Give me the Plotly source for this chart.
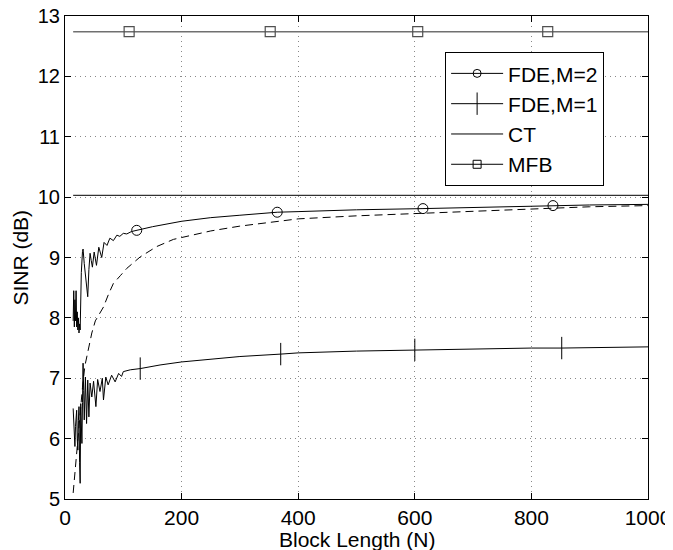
import plotly.graph_objects as go

# block length axis / SINR values
n_fde2 = [14, 15, 16, 17, 18, 19, 20, 21, 22, 23, 24, 25, 26, 27, 28, 30, 31, 33, 36, 39,
          41, 43, 45, 47, 50, 54, 58, 63, 67, 72, 77, 83, 89, 94, 100, 106, 114, 123,
          150, 200, 250, 300, 364, 400, 500, 614, 700, 837, 900, 1000]
sinr_fde2 = [7.95, 8.45, 7.85, 8.3, 7.95, 8.45, 7.85, 8.1, 7.8, 8.0, 7.75, 7.9, 7.8, 8.3, 8.75, 9.1, 9.14, 8.9, 8.6, 8.35,
             8.8, 9.07, 8.95, 8.84, 9.09, 8.87, 9.17, 9.0, 9.25, 9.2, 9.32, 9.28, 9.37, 9.35, 9.40, 9.39, 9.43, 9.45,
             9.51, 9.60, 9.66, 9.70, 9.75, 9.76, 9.79, 9.81, 9.83, 9.86, 9.87, 9.88]
mark_fde2 = [123, 364, 614, 837]

n_fde1 = [14, 15, 16, 17, 18, 20, 21, 22, 23, 24, 25, 26, 27, 28, 29, 30, 31, 32, 33, 35, 37, 39, 41, 43,
          46, 49, 53, 56, 60, 64, 66, 70, 74, 80, 86, 92, 97, 100, 112, 129,
          163, 200, 250, 300, 370, 400, 500, 600, 700, 800, 852, 900, 1000]
sinr_fde1 = [6.50, 6.30, 6.14, 5.87, 6.20, 6.47, 6.0, 5.81, 6.3, 6.53, 5.6, 5.26, 6.58, 6.1, 5.92, 6.6, 7.25, 6.8, 6.31, 7.02, 6.25, 6.97, 6.36, 6.92,
             6.69, 6.95, 6.53, 6.98, 6.78, 7.0, 6.64, 7.02, 6.89, 7.05, 6.94, 7.08, 7.03, 7.11, 7.14, 7.16,
             7.22, 7.27, 7.32, 7.36, 7.40, 7.42, 7.45, 7.47, 7.485, 7.50, 7.50, 7.51, 7.52]
mark_fde1 = [129, 370, 600, 852]

n_dash = [14, 17, 20, 23, 26, 30, 34, 40, 46, 52, 60, 66, 75, 83, 95, 106, 129, 157, 186,
          250, 300, 400, 500, 660, 800, 900, 1000]
sinr_dash = [5.1, 5.45, 5.76, 6.1, 6.42, 6.85, 7.2, 7.5, 7.75, 7.95, 8.08, 8.18, 8.4, 8.57, 8.7, 8.82, 9.01, 9.18, 9.30,
             9.44, 9.52, 9.64, 9.69, 9.75, 9.80, 9.84, 9.86]

n_ct = [14, 1000]
sinr_ct = [10.03, 10.03]

n_mfb = [14, 110, 352, 605, 828, 1000]
sinr_mfb = [12.74, 12.74, 12.74, 12.74, 12.74, 12.74]
mark_mfb = [110, 352, 605, 828]

FONT = "Liberation Sans, Arial, Helvetica, sans-serif"
FS = 21


def pick(xs, ys, keep):
    pts = [(x, y) for x, y in zip(xs, ys) if x in keep]
    return [p[0] for p in pts], [p[1] for p in pts]


fig = go.Figure()

# curves
fig.add_trace(go.Scatter(x=n_dash, y=sinr_dash, mode='lines', showlegend=False,
                         line=dict(color='black', width=1, dash='8px,5px')))
fig.add_trace(go.Scatter(x=n_fde2, y=sinr_fde2, mode='lines', showlegend=False,
                         line=dict(color='black', width=1)))
fig.add_trace(go.Scatter(x=n_fde1, y=sinr_fde1, mode='lines', showlegend=False,
                         line=dict(color='black', width=1)))
fig.add_trace(go.Scatter(x=n_ct, y=sinr_ct, mode='lines', showlegend=False,
                         line=dict(color='black', width=1)))
fig.add_trace(go.Scatter(x=n_mfb, y=sinr_mfb, mode='lines', showlegend=False,
                         line=dict(color='#707070', width=1.6)))

# sparse markers
mx, my = pick(n_fde2, sinr_fde2, mark_fde2)
fig.add_trace(go.Scatter(x=mx, y=my, mode='markers', showlegend=False,
                         marker=dict(symbol='circle-open', size=10, color='black', line=dict(width=1))))
mx, my = pick(n_fde1, sinr_fde1, mark_fde1)
fig.add_trace(go.Scatter(x=mx, y=my, mode='markers', showlegend=False,
                         marker=dict(symbol='line-ns', size=16, color='black',
                                     line=dict(width=1, color='black'))))
mx, my = pick(n_mfb, sinr_mfb, mark_mfb)
fig.add_trace(go.Scatter(x=mx, y=my, mode='markers', showlegend=False,
                         marker=dict(symbol='square-open', size=10, color='#505050', line=dict(width=1.2))))

# legend entries
legend_items = [
    ('FDE,M=2', 'lines+markers', dict(symbol='circle-open', size=8, color='black')),
    ('FDE,M=1', 'lines+markers', dict(symbol='line-ns', size=16, color='black',
                                      line=dict(width=1, color='black'))),
    ('CT', 'lines', None),
    ('MFB', 'lines+markers', dict(symbol='square-open', size=8, color='black')),
]
for name, mode, mk in legend_items:
    fig.add_trace(go.Scatter(x=[None], y=[None], mode=mode, name=name, legendgroup=name,
                             line=dict(color='black', width=1), marker=mk))

axis_common = dict(showline=True, linecolor='black', linewidth=1, mirror='ticks',
                   ticks='inside', ticklen=6, tickcolor='black',
                   showgrid=True, gridcolor='#888888', griddash='1px,4px', gridwidth=1,
                   zeroline=False, automargin=False, ticklabeloverflow='allow')

fig.update_xaxes(range=[0, 1000], tick0=0, dtick=200,
                 tickfont=dict(size=FS, color='black'), **axis_common)
fig.update_yaxes(range=[5, 13], tick0=5, dtick=1,
                 tickfont=dict(size=20, color='black'), **axis_common)

# page body adds an 8px offset, margins are compensated for it
fig.update_layout(
    width=673, height=550,
    margin=dict(l=57, r=33, t=8, b=59, autoexpand=False),
    paper_bgcolor='white', plot_bgcolor='white',
    font=dict(family=FONT, size=FS, color='black'),
    legend=dict(x=0.652, y=0.925, xanchor='left', yanchor='top',
                bgcolor='white', bordercolor='black', borderwidth=1,
                itemwidth=52, entrywidth=170, entrywidthmode='pixels',
                font=dict(size=FS), traceorder='grouped', tracegroupgap=0),
    annotations=[
        dict(text='Block Length (N)', x=0.5, y=-0.083, xref='paper', yref='paper',
             xanchor='center', yanchor='middle', showarrow=False, font=dict(size=FS)),
        dict(text='SINR (dB)', x=-0.077, y=0.5, xref='paper', yref='paper', textangle=-90,
             xanchor='center', yanchor='middle', showarrow=False, font=dict(size=FS)),
    ],
)

fig.write_html("out.html")
